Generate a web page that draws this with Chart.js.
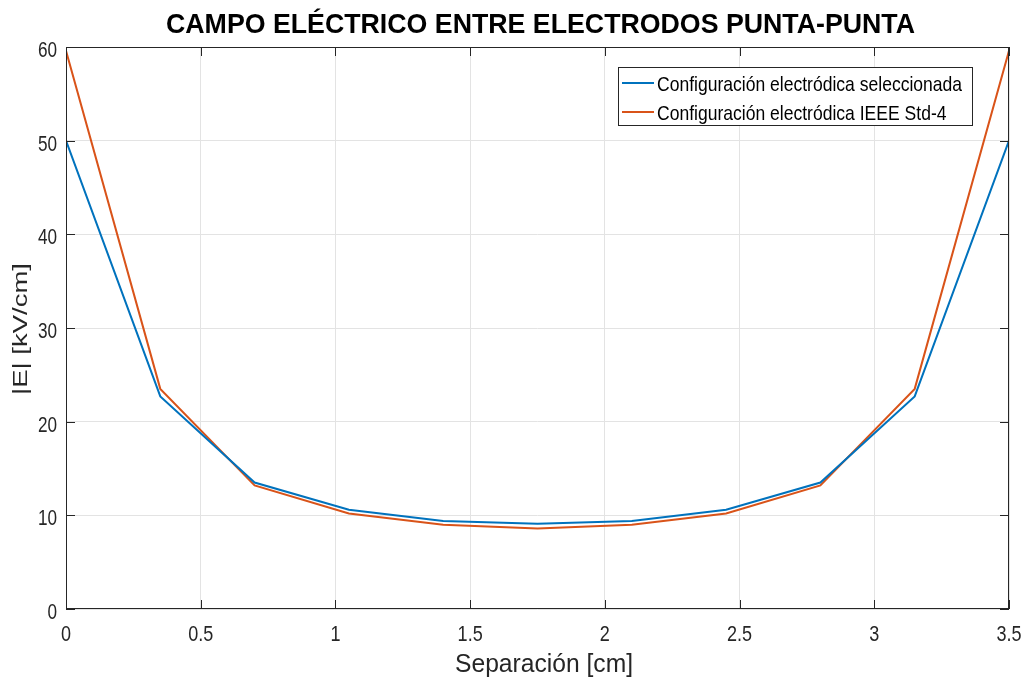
<!DOCTYPE html>
<html>
<head>
<meta charset="utf-8">
<script src="https://cdn.jsdelivr.net/npm/chart.js@4"></script>
<style>
  body { margin: 0; background: #fff; }
  #wrap { position: relative; width: 1026px; height: 681px; }
</style>
</head>
<body>
<div id="wrap"><canvas id="chart"></canvas></div>
<script>
// separation along the gap [cm]
const separacion = [0, 0.35, 0.7, 1.05, 1.4, 1.75, 2.1, 2.45, 2.8, 3.15, 3.5];
// |E| in kV/cm
const campoSeleccionada = [50, 22.7, 13.5, 10.6, 9.4, 9.1, 9.4, 10.6, 13.5, 22.7, 50];
const campoIEEE = [59.6, 23.5, 13.2, 10.2, 9.0, 8.6, 9.0, 10.2, 13.2, 23.5, 59.6];
const xTicks = [0, 0.5, 1, 1.5, 2, 2.5, 3, 3.5];
const yTicks = [0, 10, 20, 30, 40, 50, 60];
const xTickLabels = ['0', '0.5', '1', '1.5', '2', '2.5', '3', '3.5'];
const yTickLabels = ['0', '10', '20', '30', '40', '50', '60'];

const FONT = '"Liberation Sans", Arial, sans-serif';
const AXIS = '#262626';

const toPts = (xs, ys) => xs.map((x, i) => ({ x: x, y: ys[i] }));

// draw text squeezed/stretched along its own direction (the reference uses a condensed face)
function drawText(ctx, text, x, y, font, opts) {
  ctx.save();
  ctx.translate(x, y);
  if (opts.rot) ctx.rotate(opts.rot);
  ctx.font = font;
  let sx = opts.sx || 1;
  if (opts.width) sx = opts.width / ctx.measureText(text).width;
  ctx.scale(sx, 1);
  ctx.textAlign = opts.align || 'center';
  ctx.textBaseline = 'alphabetic';
  ctx.fillStyle = opts.color || AXIS;
  ctx.fillText(text, 0, 0);
  ctx.restore();
}

// MATLAB-like box, inward ticks, labels, title and boxed legend
const matlabBox = {
  id: 'matlabBox',
  afterDraw(chart) {
    const { ctx, chartArea: a, scales } = chart;
    ctx.save();
    ctx.strokeStyle = AXIS;
    ctx.lineWidth = 1;
    ctx.strokeRect(a.left + 0.5, a.top + 0.5, a.right - a.left - 1, a.bottom - a.top - 1);
    ctx.beginPath();
    xTicks.forEach(v => {
      const px = Math.round(scales.x.getPixelForValue(v)) + 0.5;
      ctx.moveTo(px, a.bottom); ctx.lineTo(px, a.bottom - 9);
      ctx.moveTo(px, a.top); ctx.lineTo(px, a.top + 9);
    });
    yTicks.forEach(v => {
      const py = Math.round(scales.y.getPixelForValue(v)) + 0.5;
      ctx.moveTo(a.left, py); ctx.lineTo(a.left + 9, py);
      ctx.moveTo(a.right, py); ctx.lineTo(a.right - 9, py);
    });
    ctx.stroke();
    ctx.restore();

    // tick labels
    const tickFont = '22px ' + FONT;
    xTicks.forEach((v, i) => {
      drawText(ctx, xTickLabels[i], scales.x.getPixelForValue(v), 641, tickFont, { sx: 0.82 });
    });
    yTicks.forEach((v, i) => {
      drawText(ctx, yTickLabels[i], 57, scales.y.getPixelForValue(v) + 10, tickFont, { sx: 0.78, align: 'right' });
    });

    // axis titles
    drawText(ctx, 'Separación [cm]', 544, 672, '25px ' + FONT, { width: 178 });
    drawText(ctx, '|E| [kV/cm]', 27, 329, '19.5px ' + FONT, { width: 132, rot: -Math.PI / 2 });

    // title
    drawText(ctx, 'CAMPO ELÉCTRICO ENTRE ELECTRODOS PUNTA-PUNTA', 540.5, 33,
      'bold 28px ' + FONT, { width: 749, color: '#000' });

    // legend
    const lx = 618, ly = 67, lw = 354, lh = 58;
    ctx.save();
    ctx.fillStyle = '#fff';
    ctx.fillRect(lx, ly, lw, lh);
    ctx.strokeStyle = AXIS;
    ctx.lineWidth = 1;
    ctx.strokeRect(lx + 0.5, ly + 0.5, lw, lh);
    ctx.restore();
    const legFont = '21px ' + FONT;
    chart.data.datasets.forEach((ds, i) => {
      const cy = ly + 16 + i * 29;
      ctx.save();
      ctx.strokeStyle = ds.borderColor;
      ctx.lineWidth = 2;
      ctx.beginPath();
      ctx.moveTo(lx + 4, cy); ctx.lineTo(lx + 36, cy);
      ctx.stroke();
      ctx.restore();
      drawText(ctx, ds.label, lx + 39, cy + 7.5, legFont, { sx: 0.835, align: 'left', color: '#000' });
    });
  }
};

new Chart(document.getElementById('chart'), {
  type: 'line',
  data: {
    datasets: [
      {
        label: 'Configuración electródica seleccionada',
        data: toPts(separacion, campoSeleccionada),
        borderColor: '#0072BD',
        borderWidth: 2,
        pointRadius: 0,
        tension: 0
      },
      {
        label: 'Configuración electródica IEEE Std-4',
        data: toPts(separacion, campoIEEE),
        borderColor: '#D95319',
        borderWidth: 2,
        pointRadius: 0,
        tension: 0
      }
    ]
  },
  options: {
    responsive: true,
    maintainAspectRatio: false,
    animation: false,
    layout: { padding: { top: 47, right: 17, left: 0, bottom: 0 } },
    plugins: {
      legend: { display: false },
      title: { display: false },
      tooltip: { enabled: false }
    },
    scales: {
      x: {
        type: 'linear',
        min: 0, max: 3.5,
        afterBuildTicks: s => { s.ticks = xTicks.map(v => ({ value: v })); },
        afterFit: s => { s.height = 72; s.paddingLeft = 0; s.paddingRight = 0; },
        grid: { color: '#e3e3e3', drawTicks: false },
        border: { display: false },
        ticks: { display: false }
      },
      y: {
        min: 0, max: 60,
        afterBuildTicks: s => { s.ticks = yTicks.map(v => ({ value: v })); },
        afterFit: s => { s.width = 66; s.paddingTop = 0; s.paddingBottom = 0; },
        grid: { color: '#e3e3e3', drawTicks: false },
        border: { display: false },
        ticks: { display: false }
      }
    }
  },
  plugins: [matlabBox]
});
</script>
</body>
</html>
